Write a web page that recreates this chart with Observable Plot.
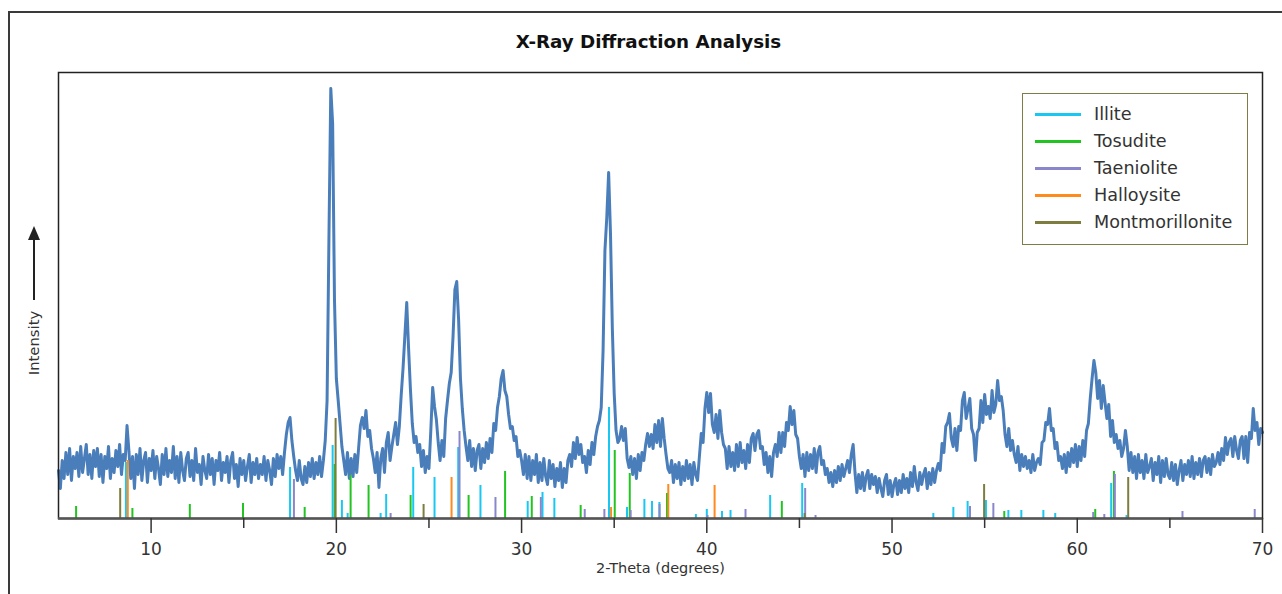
<!DOCTYPE html>
<html>
<head>
<meta charset="utf-8">
<script src="https://cdn.jsdelivr.net/npm/d3@7"></script>
<script src="https://cdn.jsdelivr.net/npm/@observablehq/plot@0.6"></script>
<style>
  html, body { margin: 0; padding: 0; background: #fff; }
  body { width: 1282px; height: 594px; position: relative; overflow: hidden; font-family: "DejaVu Sans", sans-serif; color: #333; }
  #outer { position: absolute; left: 8px; top: 11px; width: 1300px; height: 620px; border: 2px solid #3a3a3a; box-sizing: border-box; }
  #title { position: absolute; left: 15px; top: 30px; width: 1267px; text-align: center; font-weight: bold; font-size: 18.3px; line-height: 24px; color: #111; }
  #chart { position: absolute; left: 0; top: 60px; }
  #ylab { position: absolute; left: 33px; top: 343px; transform: translate(-50%, -50%) rotate(-90deg); font-size: 14.8px; white-space: nowrap; color: #333; }
  #yarrow { position: absolute; left: 33px; top: 236px; width: 2px; height: 64px; background: #222; }
  #yarrowhead { position: absolute; left: 28px; top: 226px; width: 0; height: 0; border-left: 6px solid transparent; border-right: 6px solid transparent; border-bottom: 14px solid #222; }
  #legend { position: absolute; left: 1022px; top: 93px; width: 226px; height: 152px; border: 1.5px solid #7d7d45; box-sizing: border-box; background: #fff; }
  .row { position: absolute; left: 0; height: 20px; width: 100%; }
  .sw { position: absolute; left: 12px; top: 9px; width: 46px; height: 3px; }
  .lt { position: absolute; left: 71px; top: 0; font-size: 17.6px; line-height: 20px; color: #333; white-space: nowrap; }
</style>
</head>
<body>
<div id="outer"></div>
<div id="title">X-Ray Diffraction Analysis</div>
<div id="chart"></div>
<div id="yarrowhead"></div>
<div id="yarrow"></div>
<div id="ylab">Intensity</div>
<div id="legend"></div>
<script>
// ---- Data ----
const thetaStart = 5.0;   // first 2-theta value of the scan (degrees)
const thetaStep = 0.1;    // scan step (degrees)
// measured intensity (arbitrary units), one value per step from 5.0 to 70.0
const scanIntensity = [
  48, 30, 58, 40, 66, 44, 70, 38, 62, 50,
  66, 42, 72, 46, 60, 74, 44, 64, 40, 68,
  52, 70, 42, 64, 36, 62, 50, 72, 40, 60,
  46, 68, 52, 74, 44, 64, 58, 93, 68, 40,
  62, 30, 64, 44, 70, 38, 58, 66, 36, 60,
  48, 68, 40, 62, 50, 34, 64, 44, 70, 42,
  58, 46, 72, 40, 62, 36, 66, 48, 38, 60,
  66, 42, 58, 38, 70, 46, 54, 34, 62, 48,
  40, 64, 44, 60, 34, 58, 48, 66, 38, 56,
  46, 62, 36, 58, 66, 40, 54, 32, 60, 44,
  58, 38, 52, 64, 36, 56, 44, 60, 40, 54,
  44, 62, 38, 58, 48, 34, 60, 42, 64, 50,
  62, 44, 66, 84, 96, 101, 78, 62, 48, 38,
  58, 40, 34, 52, 36, 56, 42, 60, 40, 56,
  44, 62, 42, 58, 78, 118, 280, 430, 395, 218,
  140, 118, 95, 72, 58, 44, 66, 40, 60, 42,
  64, 46, 70, 93, 101, 90, 108, 82, 88, 70,
  60, 46, 66, 31, 60, 70, 46, 76, 86, 58,
  72, 84, 96, 74, 92, 123, 150, 183, 216, 170,
  129, 95, 76, 82, 66, 74, 52, 68, 46, 62,
  50, 88, 131, 112, 99, 76, 58, 78, 62, 100,
  118, 135, 146, 182, 229, 237, 199, 140, 110, 88,
  72, 58, 78, 52, 70, 48, 68, 74, 50, 70,
  56, 76, 60, 80, 66, 95, 88, 111, 122, 140,
  148, 128, 122, 104, 90, 92, 78, 82, 62, 68,
  58, 44, 64, 40, 62, 38, 58, 44, 64, 36,
  56, 38, 60, 42, 34, 58, 40, 54, 32, 50,
  38, 56, 31, 50, 36, 58, 64, 52, 76, 60,
  81, 64, 74, 56, 62, 46, 68, 54, 76, 64,
  82, 92, 98, 111, 168, 268, 301, 346, 285, 190,
  125, 88, 76, 80, 92, 78, 90, 60, 51, 62,
  44, 60, 40, 64, 48, 66, 58, 74, 85, 72,
  84, 70, 94, 76, 98, 72, 100, 80, 64, 50,
  46, 58, 36, 54, 40, 56, 34, 52, 38, 58,
  40, 54, 34, 56, 44, 38, 62, 85, 76, 110,
  126, 106, 125, 94, 86, 104, 80, 108, 86, 74,
  70, 50, 72, 52, 66, 48, 74, 52, 76, 56,
  68, 50, 74, 56, 80, 85, 68, 84, 88, 70,
  72, 54, 66, 46, 62, 42, 66, 74, 62, 86,
  66, 86, 72, 96, 88, 112, 94, 108, 84, 80,
  62, 50, 64, 42, 66, 48, 64, 50, 70, 46,
  66, 72, 54, 58, 44, 50, 36, 46, 32, 48,
  36, 52, 38, 54, 42, 50, 58, 46, 64, 74,
  46, 26, 44, 30, 46, 28, 42, 48, 30, 44,
  34, 42, 26, 40, 30, 22, 38, 44, 24, 38,
  22, 34, 40, 24, 38, 26, 44, 30, 40, 26,
  46, 32, 52, 36, 28, 46, 34, 44, 50, 30,
  46, 34, 50, 36, 48, 55, 48, 75, 66, 92,
  96, 105, 80, 72, 90, 68, 92, 88, 118, 126,
  100, 110, 120, 90, 84, 58, 86, 90, 118, 96,
  124, 104, 112, 100, 128, 106, 114, 138, 118, 122,
  108, 84, 72, 90, 68, 78, 64, 56, 72, 48,
  64, 52, 62, 50, 58, 46, 64, 48, 56, 60,
  54, 76, 78, 96, 94, 110, 88, 90, 70, 76,
  58, 62, 50, 64, 46, 66, 52, 70, 56, 74,
  52, 72, 58, 78, 62, 88, 95, 120, 140, 158,
  146, 120, 138, 110, 133, 116, 100, 114, 82, 98,
  76, 84, 70, 78, 62, 70, 88, 72, 48, 66,
  46, 62, 40, 64, 46, 58, 40, 64, 46, 52,
  60, 38, 56, 44, 62, 36, 58, 42, 60, 44,
  40, 56, 38, 54, 34, 48, 58, 38, 54, 44,
  58, 42, 62, 40, 56, 44, 60, 42, 58, 62,
  46, 60, 44, 64, 52, 56, 66, 54, 70, 58,
  81, 64, 76, 80, 62, 82, 68, 60, 78, 82,
  60, 82, 56, 86, 80, 110, 88, 96, 74, 90,
  86
];

// reference patterns: [2-theta, relative intensity]
const illite = [[8.64,56],[17.50,51],[19.80,73],[20.30,18],[20.61,5],[22.39,5],[22.69,24],[24.15,51],[25.30,41],[26.58,71],[27.78,33],[30.33,17],[31.13,26],[31.77,20],[34.72,111],[35.69,11],[36.63,19],[37.04,17],[37.44,16],[39.41,4],[40.00,9],[40.82,7],[41.28,8],[43.42,23],[45.15,35],[52.23,5],[53.31,11],[54.08,17],[55.07,18],[56.28,8],[56.98,8],[58.17,8],[58.81,5],[61.83,35],[62.66,3]];
const tosudite = [[5.95,12],[8.99,10],[12.09,14],[14.96,15],[18.29,11],[19.91,54],[20.77,43],[21.74,33],[24.01,23],[27.14,23],[29.11,47],[30.55,22],[33.19,13],[35.03,68],[35.84,45],[37.85,25],[44.05,17],[56.06,7],[60.97,9],[61.98,47]];
const taeniolite = [[17.71,39],[22.93,5],[26.65,87],[28.59,21],[31.04,21],[33.41,9],[34.47,9],[35.89,8],[37.45,14],[40.04,3],[42.09,9],[45.31,30],[45.87,3],[54.21,12],[55.47,15],[60.86,6],[61.46,4],[62.03,44],[65.68,7],[69.58,9]];
const halloysite = [[8.74,58],[26.22,41],[34.83,11],[37.92,34],[40.42,33]];
const montmorillonite = [[8.33,30],[19.96,100],[24.71,14],[45.28,5],[54.97,34],[62.75,41]];

const mineralNames = ["Illite", "Tosudite", "Taeniolite", "Halloysite", "Montmorillonite"];
const mineralColors = ["#18c8f2", "#22c422", "#8a86cc", "#ff8a1e", "#7d7d3f"];
const majorTicks = [10, 20, 30, 40, 50, 60, 70];
const minorTicks = [15, 25, 35, 45, 55, 65];

// ---- Build tables ----
const scan = scanIntensity.map((v, i) => ({theta: +(thetaStart + i * thetaStep).toFixed(2), intensity: v}));
const patterns = [illite, tosudite, taeniolite, halloysite, montmorillonite];
const sticks = [];
patterns.forEach((p, k) => p.forEach(([t, h]) => sticks.push({theta: t, h, mineral: mineralNames[k]})));

const font = "DejaVu Sans";
const chart = Plot.plot({
  width: 1282,
  height: 534,
  marginLeft: 58,
  marginRight: 20,
  marginTop: 12,
  marginBottom: 76,
  style: {fontFamily: font, color: "#333", background: "transparent", overflow: "visible"},
  x: {domain: [5, 70]},
  y: {domain: [0, 446], axis: null},
  color: {domain: mineralNames, range: mineralColors},
  marks: [
    Plot.line(scan, {x: "theta", y: "intensity", stroke: "#4a7ebb", strokeWidth: 3, strokeLinejoin: "round"}),
    Plot.ruleX(sticks, {x: "theta", y1: 0, y2: "h", stroke: "mineral", strokeWidth: 2}),
    Plot.frame({stroke: "#222", strokeWidth: 1.5}),
    Plot.ruleY([0], {stroke: "#555", strokeWidth: 2.5}),
    Plot.axisX({ticks: majorTicks, tickSize: 15, tickPadding: 9, fontSize: 17, label: null, color: "#333", strokeWidth: 1.5}),
    Plot.axisX({ticks: minorTicks, tickSize: 10, tickFormat: () => "", label: null, color: "#333", strokeWidth: 1.5}),
    Plot.text(["2-Theta (degrees)"], {frameAnchor: "bottom", dy: 54, fontSize: 14.5, fill: "#333"})
  ]
});
document.getElementById("chart").appendChild(chart);

// legend
const legend = document.getElementById("legend");
mineralNames.forEach((name, i) => {
  const row = document.createElement("div");
  row.className = "row";
  row.style.top = (10 + i * 27) + "px";
  const sw = document.createElement("div");
  sw.className = "sw";
  sw.style.background = mineralColors[i];
  const lt = document.createElement("div");
  lt.className = "lt";
  lt.textContent = name;
  row.appendChild(sw);
  row.appendChild(lt);
  legend.appendChild(row);
});
</script>
</body>
</html>
